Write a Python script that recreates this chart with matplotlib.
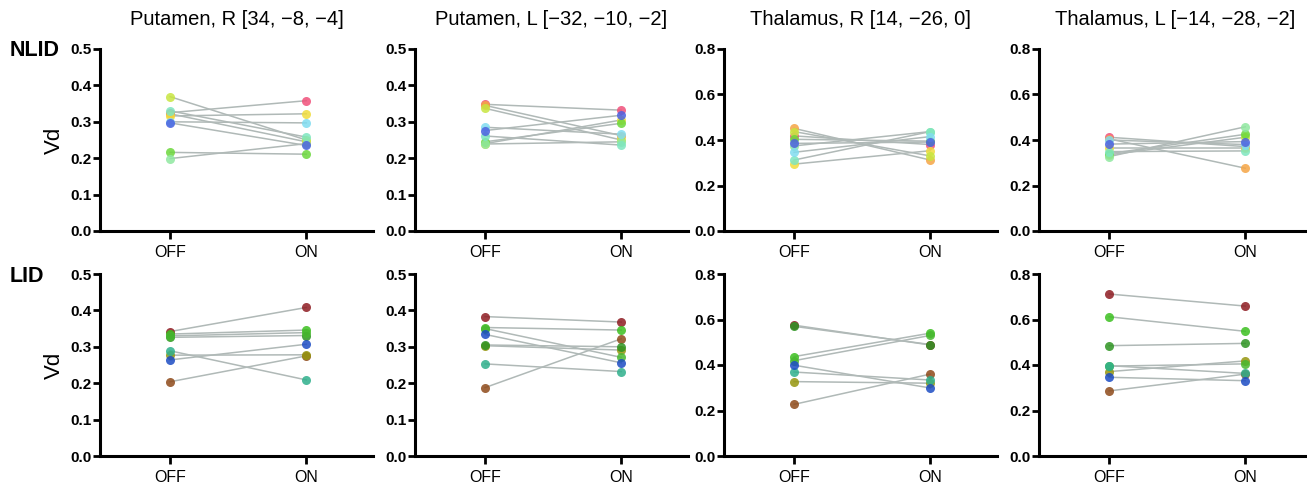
import matplotlib
matplotlib.use("Agg")
import matplotlib.pyplot as plt

plt.rcParams['font.family'] = ['Liberation Sans', 'DejaVu Sans']

# --- dados ---
conditions = ["OFF", "ON"]
regions = ["Putamen, R [34, \u22128, \u22124]", "Putamen, L [\u221232, \u221210, \u22122]",
           "Thalamus, R [14, \u221226, 0]", "Thalamus, L [\u221214, \u221228, \u22122]"]
y_max = [0.5, 0.5, 0.8, 0.8]

# NLID: pink, orange, yellow, lime, green, lightgreen, mint, cyan, blue
nlid_colors = ["#f0507a", "#f5a545", "#f0dc3c", "#c8e640", "#6cd83c",
               "#90e8a0", "#7ee6c0", "#80dcf0", "#4c62e0"]
nlid_put_r_off = [0.325, 0.322, 0.316, 0.369, 0.216, 0.199, 0.330, 0.300, 0.297]
nlid_put_r_on = [0.358, 0.245, 0.322, 0.250, 0.211, 0.240, 0.258, 0.297, 0.235]
nlid_put_l_off = [0.348, 0.345, 0.240, 0.337, 0.245, 0.239, 0.261, 0.285, 0.276]
nlid_put_l_on = [0.332, 0.262, 0.305, 0.250, 0.296, 0.245, 0.236, 0.266, 0.318]
nlid_tha_r_off = [0.418, 0.451, 0.294, 0.437, 0.403, 0.374, 0.312, 0.346, 0.385]
nlid_tha_r_on = [0.380, 0.312, 0.353, 0.330, 0.395, 0.437, 0.437, 0.415, 0.391]
nlid_tha_l_off = [0.412, 0.405, 0.363, 0.335, 0.340, 0.327, 0.349, 0.400, 0.382]
nlid_tha_l_on = [0.371, 0.276, 0.363, 0.412, 0.425, 0.458, 0.352, 0.380, 0.393]

# LID: darkred, brown, olive, green, darkgreen, green2, teal, blue
lid_colors = ["#8e1c22", "#8e4a1a", "#95960e", "#3cc020", "#2e9422",
              "#48b830", "#2fb08c", "#1c4cc4"]
lid_put_r_off = [0.342, 0.204, 0.277, 0.335, 0.326, 0.330, 0.289, 0.264]
lid_put_r_on = [0.408, 0.275, 0.278, 0.346, 0.331, 0.339, 0.209, 0.307]
lid_put_l_off = [0.383, 0.188, 0.303, 0.353, 0.305, 0.350, 0.253, 0.334]
lid_put_l_on = [0.368, 0.322, 0.291, 0.346, 0.300, 0.271, 0.232, 0.256]
lid_tha_r_off = [0.575, 0.227, 0.327, 0.437, 0.570, 0.419, 0.369, 0.399]
lid_tha_r_on = [0.488, 0.360, 0.320, 0.540, 0.490, 0.530, 0.334, 0.299]
lid_tha_l_off = [0.712, 0.286, 0.371, 0.612, 0.485, 0.395, 0.397, 0.346]
lid_tha_l_on = [0.659, 0.360, 0.418, 0.548, 0.495, 0.405, 0.363, 0.331]

nlid = [(nlid_put_r_off, nlid_put_r_on), (nlid_put_l_off, nlid_put_l_on),
        (nlid_tha_r_off, nlid_tha_r_on), (nlid_tha_l_off, nlid_tha_l_on)]
lid = [(lid_put_r_off, lid_put_r_on), (lid_put_l_off, lid_put_l_on),
       (lid_tha_r_off, lid_tha_r_on), (lid_tha_l_off, lid_tha_l_on)]

W, H = 1307, 484
fig = plt.figure(figsize=(W / 100, H / 100), dpi=100)

lefts = [100, 415, 724, 1039]
rows = [(49, 231, nlid, nlid_colors, "NLID"), (274, 456, lid, lid_colors, "LID")]


def painel(ax, off, on, cores, ymax):
    for a, b, c in zip(off, on, cores):
        ax.plot([0, 1], [a, b], color="#b0b9b7", lw=1.1, zorder=1)
    for a, b, c in zip(off, on, cores):
        ax.plot([0, 1], [a, b], ls="none", marker="o", ms=6.5, color=c,
                alpha=0.85, mec="none", zorder=2)
    ax.set_xlim(-0.515, 1.49)
    ax.set_ylim(0, ymax)
    step = 0.1 if ymax == 0.5 else 0.2
    n = int(round(ymax / step))
    ax.set_yticks([i * step for i in range(n + 1)])
    ax.set_yticklabels([f"{i * step:.1f}" for i in range(n + 1)],
                       fontweight="bold", fontsize=11)
    ax.set_xticks([0, 1])
    ax.set_xticklabels(conditions, fontsize=11.5)
    ax.spines['top'].set_visible(False)
    ax.spines['right'].set_visible(False)
    for s in ['left', 'bottom']:
        ax.spines[s].set_linewidth(2.2)
    ax.tick_params(width=2.0, length=5, pad=1)
    ax.tick_params(axis='x', length=6, pad=4)


for top, bot, dados, cores, nome in rows:
    for j, (off, on) in enumerate(dados):
        ax = fig.add_axes([lefts[j] / W, 1 - bot / H, 273 / W, (bot - top) / H])
        painel(ax, off, on, cores, y_max[j])
        if top == 49:
            ax.set_title(regions[j], fontsize=14.5, pad=17)
        if j == 0:
            ax.set_ylabel("Vd", fontsize=16, labelpad=4)
    fig.text(10 / W, 1 - (top + 2) / H, nome, fontsize=15.5, fontweight="bold",
             va="center", ha="left")

fig.savefig("out.png", dpi=100)
